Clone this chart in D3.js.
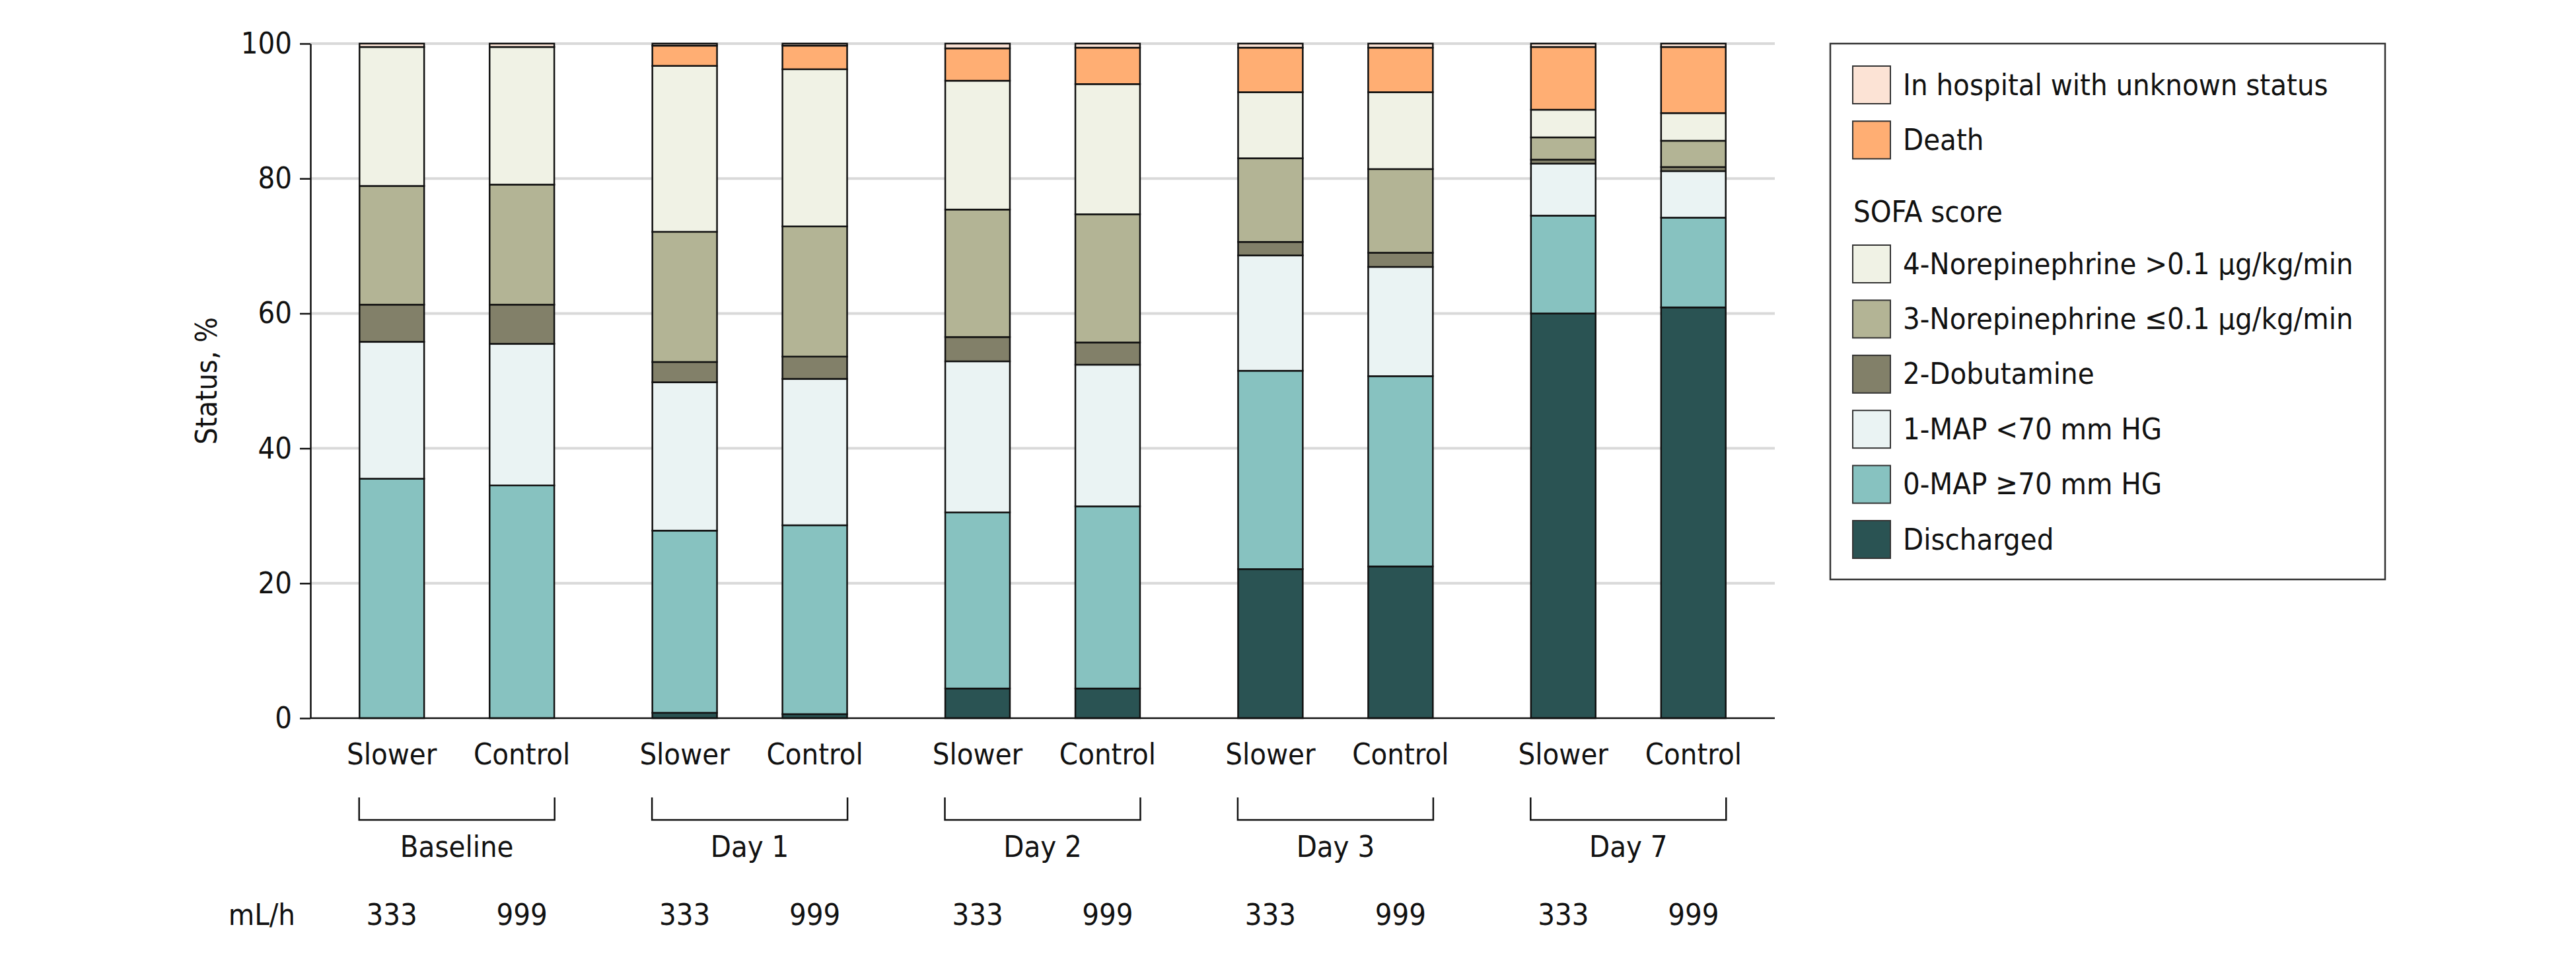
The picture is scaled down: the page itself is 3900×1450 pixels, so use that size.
<!DOCTYPE html>
<html>
<head>
<meta charset="utf-8">
<script src="https://cdnjs.cloudflare.com/ajax/libs/d3/7.8.5/d3.min.js"></script>
<style>
  body { margin: 0; background: #fff; }
  svg text { font-family: "DejaVu Sans Condensed", "DejaVu Sans", sans-serif; font-stretch: condensed; fill: #111; }
</style>
</head>
<body>
<svg id="chart" width="3900" height="1450"></svg>
<script>
// time points and arms
const groups = ["Baseline", "Day 1", "Day 2", "Day 3", "Day 7"];
const arms = ["Slower", "Control"];
const rates = ["333", "999"];
const yTicks = [0, 20, 40, 60, 80, 100];

// status categories, bottom of stack first
const categories = [
    "Discharged",
    "0-MAP ≥70 mm HG",
    "1-MAP <70 mm HG",
    "2-Dobutamine",
    "3-Norepinephrine ≤0.1 μg/kg/min",
    "4-Norepinephrine >0.1 μg/kg/min",
    "Death",
    "In hospital with unknown status"
];
const colors = ["#2a5353", "#87c2c0", "#eaf3f3", "#828069", "#b3b495", "#f0f2e5", "#ffae73", "#fce3d5"];

// % per bar: Baseline S, Baseline C, Day1 S, Day1 C, Day2 S, Day2 C, Day3 S, Day3 C, Day7 S, Day7 C
const discharged = [0, 0, 0.8, 0.6, 4.4, 4.4, 22.1, 22.5, 60.0, 60.9];
const map0 = [35.5, 34.5, 27.0, 28.0, 26.1, 27.0, 29.4, 28.2, 14.5, 13.3];
const map1 = [20.3, 21.0, 22.0, 21.7, 22.4, 21.0, 17.1, 16.2, 7.7, 6.9];
const dobutamine = [5.5, 5.8, 3.0, 3.3, 3.6, 3.3, 2.0, 2.1, 0.6, 0.6];
const noreLow = [17.6, 17.8, 19.3, 19.3, 18.9, 19.0, 12.4, 12.4, 3.3, 3.9];
const noreHigh = [20.6, 20.4, 24.6, 23.3, 19.1, 19.3, 9.8, 11.4, 4.1, 4.1];
const death = [0, 0, 3.0, 3.5, 4.8, 5.4, 6.6, 6.6, 9.3, 9.8];
const unknown = [0.5, 0.5, 0.3, 0.3, 0.7, 0.6, 0.6, 0.6, 0.5, 0.5];

const seriesValues = [discharged, map0, map1, dobutamine, noreLow, noreHigh, death, unknown];

// legend rows, top to bottom (null = "SOFA score" header)
const legendTop = [7, 6];
const legendSofa = [5, 4, 3, 2, 1, 0];

let rows = [];
groups.forEach(function(g, gi){
    arms.forEach(function(a, ai){
        let row = {group: g, arm: a};
        categories.forEach(function(c, ci){
            row[c] = seriesValues[ci][gi * arms.length + ai];
        });
        rows.push(row);
    });
});

const svg = d3.select("#chart");
const fontSize = 45;

const x0 = d3.scaleBand().domain(groups).range([470, 2687]);
const x1 = d3.scaleBand().domain(arms).range([0, x0.bandwidth()])
    .paddingInner(0.503).paddingOuter(0.377);
const y = d3.scaleLinear().domain([0, 100]).range([1087, 66]);
const color = d3.scaleOrdinal().domain(categories).range(colors);

// gridlines
svg.append("g")
    .selectAll("line")
    .data(yTicks.filter(d => d > 0))
    .enter()
    .append("line")
    .attr("x1", x0.range()[0])
    .attr("x2", x0.range()[1])
    .attr("y1", d => y(d))
    .attr("y2", d => y(d))
    .attr("stroke", "#d9d9d9")
    .attr("stroke-width", 4);

// stacked bars
const stacked = d3.stack().keys(categories)(rows);

svg.append("g")
    .selectAll("g")
    .data(stacked)
    .enter()
    .append("g")
    .attr("fill", d => color(d.key))
    .selectAll("rect")
    .data(d => d.filter(s => s[1] - s[0] > 0))
    .enter()
    .append("rect")
    .attr("x", d => x0(d.data.group) + x1(d.data.arm))
    .attr("width", x1.bandwidth())
    .attr("y", d => y(d[1]))
    .attr("height", d => y(d[0]) - y(d[1]))
    .attr("stroke", "#111")
    .attr("stroke-width", 2.5);

// y axis
const yAxis = svg.append("g")
    .attr("transform", "translate(" + x0.range()[0] + ",0)")
    .call(d3.axisLeft(y).tickValues(yTicks).tickSize(16).tickSizeOuter(0).tickPadding(12));
yAxis.select(".domain").attr("stroke", "#111").attr("stroke-width", 2.5);
yAxis.selectAll(".tick line").attr("stroke", "#111").attr("stroke-width", 2.5);
yAxis.selectAll(".tick text")
    .attr("font-size", fontSize)
    .style("font-family", "'DejaVu Sans Condensed', 'DejaVu Sans', sans-serif")
    .attr("fill", "#111");

// x axis baseline
svg.append("line")
    .attr("x1", x0.range()[0])
    .attr("x2", x0.range()[1])
    .attr("y1", y(0))
    .attr("y2", y(0))
    .attr("stroke", "#111")
    .attr("stroke-width", 2.5);

svg.append("text")
    .attr("transform", "translate(328," + ((y(0) + y(100)) / 2) + ") rotate(-90)")
    .attr("text-anchor", "middle")
    .attr("font-size", fontSize)
    .text("Status, %");

// arm labels, brackets, group labels, rates
groups.forEach(function(g){
    let gx = x0(g);
    let cx = gx + x0.bandwidth() / 2;
    arms.forEach(function(a, ai){
        let bx = gx + x1(a) + x1.bandwidth() / 2;
        svg.append("text")
            .attr("x", bx)
            .attr("y", 1157)
            .attr("text-anchor", "middle")
            .attr("font-size", fontSize)
            .text(a);
        svg.append("text")
            .attr("x", bx)
            .attr("y", 1400)
            .attr("text-anchor", "middle")
            .attr("font-size", fontSize)
            .text(rates[ai]);
    });
    let half = 148;
    svg.append("path")
        .attr("d", "M" + (cx - half) + ",1207V1241H" + (cx + half) + "V1207")
        .attr("fill", "none")
        .attr("stroke", "#111")
        .attr("stroke-width", 2.5);
    svg.append("text")
        .attr("x", cx)
        .attr("y", 1297)
        .attr("text-anchor", "middle")
        .attr("font-size", fontSize)
        .text(g);
});

svg.append("text")
    .attr("x", 447)
    .attr("y", 1400)
    .attr("text-anchor", "end")
    .attr("font-size", fontSize)
    .text("mL/h");

// legend
const legend = svg.append("g");
legend.append("rect")
    .attr("x", 2771)
    .attr("y", 66)
    .attr("width", 840)
    .attr("height", 811)
    .attr("fill", "#fff")
    .attr("stroke", "#333")
    .attr("stroke-width", 2.5);

const swatchX = 2805, swatch = 57, rowStep = 83.4;

function legendRow(ci, top){
    legend.append("rect")
        .attr("x", swatchX)
        .attr("y", top)
        .attr("width", swatch)
        .attr("height", swatch)
        .attr("fill", colors[ci])
        .attr("stroke", "#333")
        .attr("stroke-width", 2);
    legend.append("text")
        .attr("x", 2881)
        .attr("y", top + swatch / 2 + 15)
        .attr("font-size", fontSize)
        .text(categories[ci]);
}

legendTop.forEach((ci, i) => legendRow(ci, 100 + i * rowStep));

legend.append("text")
    .attr("x", 2806)
    .attr("y", 336)
    .attr("font-size", fontSize)
    .text("SOFA score");

legendSofa.forEach((ci, i) => legendRow(ci, 371 + i * rowStep));
</script>
</body>
</html>
